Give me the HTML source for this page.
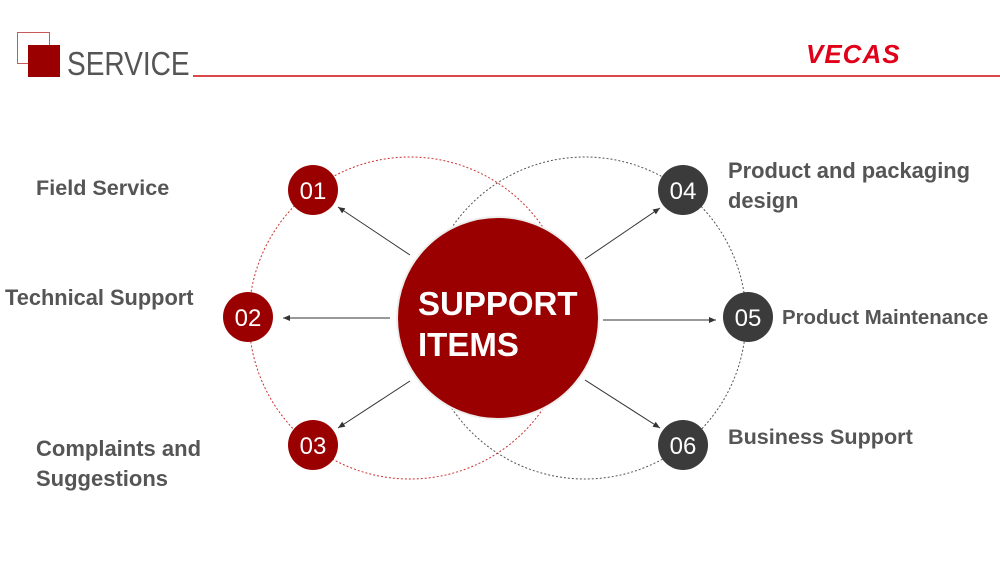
<!DOCTYPE html>
<html><head><style>
body{margin:0;width:1000px;height:576px;background:#fff;overflow:hidden;position:relative;font-family:"Liberation Sans",sans-serif}
.t{position:absolute;font-weight:bold;color:#555;font-size:21.6px;line-height:30px;white-space:nowrap}
</style></head><body>
<div style="position:absolute;left:17px;top:32px;width:31px;height:30px;border:1.5px solid #c85a5a"></div>
<div style="position:absolute;left:28px;top:45px;width:32px;height:32px;background:#9b0000"></div>
<div style="position:absolute;left:67px;top:44px;font-size:33px;line-height:40px;color:#555;transform:scaleX(0.85);transform-origin:0 0">SERVICE</div>
<div style="position:absolute;left:193px;top:75px;width:807px;height:1.5px;background:#d84848"></div>
<div style="position:absolute;left:806px;top:39px;font-size:26px;font-weight:bold;font-style:italic;color:#e0001a;letter-spacing:1px">VECAS</div>
<svg width="1000" height="576" style="position:absolute;left:0;top:0">
<defs><marker id="a" markerWidth="8" markerHeight="8" refX="7" refY="4" orient="auto"><path d="M0,1 L7,4 L0,7 z" fill="#333"/></marker></defs>
<circle cx="410" cy="318" r="161" fill="none" stroke="#c33" stroke-width="1" stroke-dasharray="2,2"/>
<circle cx="585" cy="318" r="161" fill="none" stroke="#555" stroke-width="1" stroke-dasharray="2,2"/>
<g stroke="#333" stroke-width="1" marker-end="url(#a)">
<line x1="410" y1="255" x2="338" y2="207"/>
<line x1="390" y1="318" x2="283" y2="318"/>
<line x1="410" y1="381" x2="338" y2="428"/>
<line x1="585" y1="259" x2="660" y2="208"/>
<line x1="603" y1="320" x2="716" y2="320"/>
<line x1="585" y1="380" x2="660" y2="428"/>
</g>
<circle cx="498" cy="318" r="101" fill="#9b0000" stroke="#eee" stroke-width="2"/>
<text x="418" y="315" font-size="33" font-weight="bold" fill="#fff" font-family="Liberation Sans">SUPPORT</text>
<text x="418" y="356" font-size="33" font-weight="bold" fill="#fff" font-family="Liberation Sans">ITEMS</text>
<g font-family="Liberation Sans" font-size="24" fill="#fff" text-anchor="middle">
<circle cx="313" cy="190" r="25" fill="#9b0000"/><text x="313" y="199">01</text>
<circle cx="248" cy="317" r="25" fill="#9b0000"/><text x="248" y="326">02</text>
<circle cx="313" cy="445" r="25" fill="#9b0000"/><text x="313" y="454">03</text>
<circle cx="683" cy="190" r="25" fill="#3b3b3b"/><text x="683" y="199">04</text>
<circle cx="748" cy="317" r="25" fill="#3b3b3b"/><text x="748" y="326">05</text>
<circle cx="683" cy="445" r="25" fill="#3b3b3b"/><text x="683" y="454">06</text>
</g>
</svg>
<div class="t" style="left:36px;top:173px">Field Service</div>
<div class="t" style="left:5px;top:283px;font-size:21.8px">Technical Support</div>
<div class="t" style="left:36px;top:434px;font-size:22px">Complaints and<br>Suggestions</div>
<div class="t" style="left:728px;top:156px;font-size:21.9px">Product and packaging<br>design</div>
<div class="t" style="left:782px;top:303px;font-size:20.4px">Product Maintenance</div>
<div class="t" style="left:728px;top:422px">Business Support</div>
</body></html>
